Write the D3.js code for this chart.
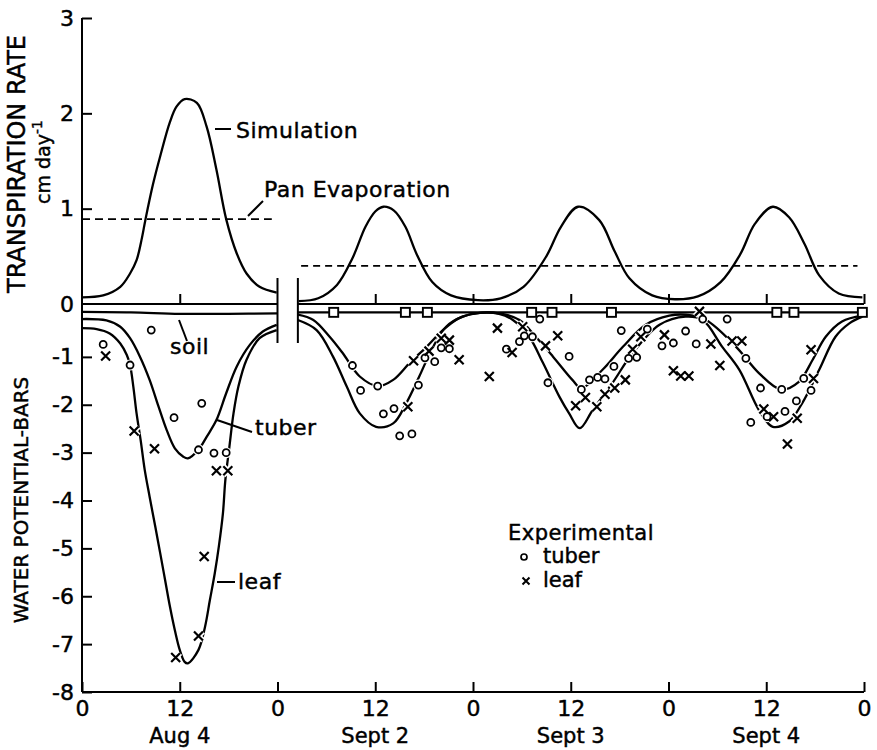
<!DOCTYPE html>
<html>
<head>
<meta charset="utf-8">
<script src="https://cdnjs.cloudflare.com/ajax/libs/d3/7.8.5/d3.min.js"></script>
<style>
  body { margin: 0; background: #fff; }
  svg text { font-family: "DejaVu Sans", sans-serif; fill: #000; stroke: #000; stroke-width: 0.45px; }
</style>
</head>
<body>
<svg id="chart" width="877" height="750"></svg>
<script>
// hours run 0..96, Aug 4 is 0-24, then a break, Sept 2-4 follow
var tickHours = [0, 12, 24, 36, 48, 60, 72, 84, 96];
var tickNames = ["0", "12", "0", "12", "0", "12", "0", "12", "0"];
var dayHours = [12, 36, 60, 84];
var dayNames = ["Aug 4", "Sept 2", "Sept 3", "Sept 4"];
var rateTicks = [0, 1, 2, 3];
var potTicks = [-1, -2, -3, -4, -5, -6, -7, -8];
var breakHours = [24, 26.5];

// simulated transpiration (cm/day)
var simAugHours = [0, 2.6, 4.7, 5.9, 6.7, 7.3, 7.8, 8.7, 9.6, 10.8, 11.6, 12.6, 14.1, 15.3, 16.5, 17.7, 19.0, 20.2, 21.8, 23.9];
var simAugRate  = [0.07, 0.09, 0.18, 0.32, 0.46, 0.67, 0.89, 1.25, 1.55, 1.91, 2.07, 2.15, 2.11, 1.86, 1.41, 0.89, 0.53, 0.32, 0.18, 0.12];
var simSepHours = [26.6, 29.0, 31.3, 33.2, 34.8, 36.0, 37.0, 38.3, 39.7, 41.1, 43.0, 45.3, 48.6, 51.4, 54.2, 57.0, 58.8, 60.9, 63.5, 65.4, 67.2, 70.0, 72.8, 75.6, 78.4, 80.8, 82.6, 84.8, 86.8, 88.7, 90.5, 92.9, 95.8];
var simSepRate  = [0.03, 0.06, 0.20, 0.48, 0.81, 0.97, 1.02, 0.98, 0.81, 0.52, 0.23, 0.09, 0.04, 0.06, 0.18, 0.50, 0.81, 1.02, 0.88, 0.55, 0.27, 0.09, 0.05, 0.08, 0.23, 0.52, 0.84, 1.02, 0.91, 0.63, 0.30, 0.11, 0.07];

// pan evaporation
var panAugHours = [0, 23.3];
var panAugRate  = [0.89, 0.89];
var panSepHours = [26.9, 95.2];
var panSepRate  = [0.40, 0.40];

// simulated water potential (bars)
var soilAugHours = [0, 6, 12, 18, 24];
var soilAug      = [-0.06, -0.07, -0.10, -0.10, -0.09];
var soilSepHours = [26.5, 96];
var soilSep      = [-0.07, -0.07];

var tuberAugHours = [0, 3.0, 4.7, 5.9, 7.1, 8.3, 9.4, 10.4, 11.4, 12.4, 13.0, 14.3, 15.3, 16.5, 17.7, 19.0, 20.6, 22.2, 23.9];
var tuberAug      = [-0.21, -0.24, -0.37, -0.61, -0.99, -1.48, -2.04, -2.53, -2.91, -3.08, -3.12, -2.94, -2.67, -2.32, -1.76, -1.20, -0.75, -0.47, -0.33];
var leafAugHours = [0, 1.8, 3.4, 4.7, 5.5, 5.9, 6.3, 6.7, 7.2, 7.7, 8.3, 9.0, 9.6, 10.2, 10.8, 11.4, 12.0, 12.6, 13.0, 14.3, 15.1, 15.7, 16.3, 16.8, 17.3, 17.6, 18.1, 18.6, 19.2, 20.2, 21.8, 23.9];
var leafAug      = [-0.40, -0.42, -0.51, -0.72, -0.96, -1.17, -1.62, -2.18, -2.74, -3.36, -3.92, -4.55, -5.10, -5.66, -6.22, -6.71, -7.12, -7.37, -7.40, -7.12, -6.64, -6.08, -5.52, -4.96, -4.27, -3.57, -2.87, -2.18, -1.62, -1.06, -0.61, -0.44];

var tuberSepHours = [26.5, 28.4, 30.4, 32.0, 34.1, 36.3, 38.2, 40.2, 42.3, 44.3, 46.3, 48.4, 51.2, 53.7, 55.7, 57.8, 60.2, 61.3, 63.9, 66.4, 69.2, 72.1, 74.1, 76.6, 80.3, 83.1, 85.8, 88.0, 89.7, 91.3, 93.3, 95.8];
var tuberSep      = [-0.12, -0.23, -0.58, -0.92, -1.41, -1.61, -1.48, -1.13, -0.79, -0.44, -0.19, -0.09, -0.09, -0.23, -0.58, -0.99, -1.48, -1.65, -1.27, -0.79, -0.33, -0.14, -0.12, -0.23, -0.79, -1.34, -1.68, -1.52, -1.06, -0.58, -0.26, -0.14];
var leafSepHours = [26.5, 28.8, 30.8, 32.5, 34.1, 36.1, 38.2, 39.8, 41.4, 43.1, 44.7, 46.7, 48.8, 51.2, 52.9, 54.9, 56.6, 58.6, 59.8, 61.1, 62.7, 65.1, 67.6, 70.9, 74.1, 76.2, 78.6, 80.7, 83.1, 84.8, 86.8, 88.4, 90.5, 92.5, 94.2, 95.8];
var leafSep      = [-0.23, -0.44, -0.99, -1.62, -2.18, -2.46, -2.39, -1.97, -1.41, -0.79, -0.37, -0.16, -0.08, -0.10, -0.23, -0.58, -1.13, -1.83, -2.18, -2.49, -2.11, -1.55, -0.92, -0.33, -0.16, -0.23, -0.79, -1.27, -2.11, -2.46, -2.35, -1.97, -1.27, -0.58, -0.30, -0.16];

// measured soil (squares)
var soilObsHours = [30.9, 39.7, 42.4, 55.2, 57.7, 65.0, 85.3, 87.4, 95.8];
var soilObs      = [-0.07, -0.07, -0.07, -0.07, -0.07, -0.07, -0.07, -0.07, -0.07];

// experimental tuber (circles)
var tuberObsHours = [2.6, 8.5, 5.9, 11.3, 14.7, 14.3, 16.2, 17.7,
  33.2, 36.3, 34.2, 37.0, 38.3, 39.0, 40.5, 41.3, 42.1, 43.3, 44.1, 45.1,
  52.1, 53.7, 54.3, 55.3, 56.2, 57.2, 59.8, 61.3, 62.3, 63.3, 64.2, 65.3,
  66.2, 67.1, 68.1, 69.4, 71.2, 72.6, 74.1, 75.4, 76.2, 79.2, 81.5, 83.3,
  85.9, 82.1, 84.1, 86.3, 87.7, 88.6, 89.5];
var tuberObs = [-0.74, -0.44, -1.17, -2.27, -1.97, -2.94, -3.01, -3.00,
  -1.18, -1.61, -1.70, -2.19, -2.08, -2.65, -2.61, -1.59, -1.02, -1.10, -0.81, -0.83,
  -0.84, -0.68, -0.56, -0.58, -0.21, -1.54, -0.99, -1.68, -1.48, -1.43, -1.46, -1.20,
  -0.45, -1.03, -1.01, -0.42, -0.77, -0.71, -0.46, -0.73, -0.21, -0.21, -1.03, -1.65,
  -1.68, -2.37, -2.25, -2.14, -1.92, -1.45, -1.70];

// experimental leaf (crosses)
var leafObsHours = [2.9, 6.4, 8.9, 16.5, 17.9, 15.0, 14.3, 11.5,
  40.7, 42.6, 44.1, 45.1, 46.3, 50.0, 51.0, 54.1, 52.8, 40.0, 56.9, 58.4,
  60.6, 61.8, 63.2, 64.2, 65.4, 66.7, 67.6, 68.6, 71.5, 72.6, 73.5, 74.5,
  75.8, 77.2, 78.3, 79.8, 81.0, 83.7, 84.9, 87.8, 86.6, 89.5, 89.8];
var leafObs = [-0.98, -2.55, -2.92, -3.38, -3.38, -5.17, -6.83, -7.28,
  -1.08, -0.88, -0.61, -0.65, -1.06, -1.41, -0.40, -0.37, -0.91, -2.04, -0.77, -0.56,
  -2.02, -1.85, -2.04, -1.78, -1.65, -1.48, -0.84, -0.58, -0.54, -1.29, -1.40, -1.40,
  -0.05, -0.73, -1.18, -0.67, -0.67, -2.09, -2.25, -2.28, -2.82, -0.85, -1.45];

var svg = d3.select("#chart");
svg.append("rect").attr("width", 877).attr("height", 750).attr("fill", "#fff");

var x = d3.scaleLinear().domain([0, 96]).range([82, 864]);
var yRate = d3.scaleLinear().domain([0, 3]).range([304, 18]);
var yPot = d3.scaleLinear().domain([-8, 0]).range([692, 309]);

function pairs(a, b) { return d3.zip(a, b); }

function curve(scaleY) {
    return d3.line()
        .x(function (d) { return x(d[0]); })
        .y(function (d) { return scaleY(d[1]); })
        .curve(d3.curveCatmullRom.alpha(0.5));
}

var ink = "#000";

// frame: left axis line and bottom axis
svg.append("line")
    .attr("x1", x(0)).attr("x2", x(0))
    .attr("y1", yRate(3)).attr("y2", yPot(-8))
    .attr("stroke", ink).attr("stroke-width", 2);

svg.append("line")
    .attr("x1", x(0)).attr("x2", x(96))
    .attr("y1", yPot(-8)).attr("y2", yPot(-8))
    .attr("stroke", ink).attr("stroke-width", 2);

var rateAxis = svg.append("g")
    .attr("transform", "translate(" + x(0) + ",0)")
    .call(d3.axisLeft(yRate).tickValues(rateTicks).tickSize(-10).tickPadding(8).tickFormat(d3.format("d")));

var potAxis = svg.append("g")
    .attr("transform", "translate(" + x(0) + ",0)")
    .call(d3.axisLeft(yPot).tickValues(potTicks).tickSize(-10).tickPadding(8)
        .tickFormat(function (d) { return String(d); }));

var bottomAxis = svg.append("g")
    .attr("transform", "translate(0," + yPot(-8) + ")")
    .call(d3.axisBottom(x).tickValues(tickHours).tickSize(-10).tickPadding(8)
        .tickFormat(function (d, i) { return tickNames[i]; }));

[rateAxis, potAxis, bottomAxis].forEach(function (g) {
    g.select(".domain").remove();
    g.selectAll(".tick line").attr("stroke", ink).attr("stroke-width", 2);
    g.selectAll(".tick text").style("font-size", "22px").style("font-family", "DejaVu Sans, sans-serif");
});
rateAxis.selectAll(".tick").filter(function (d) { return d === 0; }).select("line").remove();

svg.selectAll(".day")
    .data(dayHours)
    .enter().append("text")
    .attr("class", "day")
    .attr("x", function (d) { return x(d); })
    .attr("y", 743)
    .attr("text-anchor", "middle")
    .style("font-size", "21px")
    .text(function (d, i) { return dayNames[i]; });

// transpiration zero line, split at the break
var zeroSegs = [[0, breakHours[0]], [breakHours[1], 96]];
zeroSegs.forEach(function (s) {
    svg.append("line")
        .attr("x1", x(s[0])).attr("x2", x(s[1]))
        .attr("y1", yRate(0)).attr("y2", yRate(0))
        .attr("stroke", ink).attr("stroke-width", 2);
});
var zeroTicks = tickHours.filter(function (h) { return h > 0 && h !== 24; });
svg.append("g")
    .attr("transform", "translate(0," + yRate(0) + ")")
    .call(d3.axisBottom(x).tickValues(zeroTicks).tickSize(-10).tickFormat(""))
    .call(function (g) {
        g.select(".domain").remove();
        g.selectAll(".tick line").attr("stroke", ink).attr("stroke-width", 2);
    });

// break marks
svg.selectAll(".brk")
    .data(breakHours)
    .enter().append("line")
    .attr("x1", function (d) { return x(d); })
    .attr("x2", function (d) { return x(d); })
    .attr("y1", 278).attr("y2", 343)
    .attr("stroke", ink).attr("stroke-width", 2);

// curves
var curves = [
    [simAugHours, simAugRate, yRate, null],
    [simSepHours, simSepRate, yRate, null],
    [panAugHours, panAugRate, yRate, "8,5"],
    [panSepHours, panSepRate, yRate, "7,5"],
    [soilAugHours, soilAug, yPot, null],
    [soilSepHours, soilSep, yPot, null],
    [tuberAugHours, tuberAug, yPot, null],
    [leafAugHours, leafAug, yPot, null],
    [tuberSepHours, tuberSep, yPot, null],
    [leafSepHours, leafSep, yPot, null]
];
curves.forEach(function (c) {
    svg.append("path")
        .datum(pairs(c[0], c[1]))
        .attr("d", curve(c[2]))
        .attr("fill", "none")
        .attr("stroke", ink)
        .attr("stroke-width", c[3] ? 1.8 : 2.3)
        .attr("stroke-dasharray", c[3]);
});

// experimental markers, white halos first so the lines break around them
var tuberPts = pairs(tuberObsHours, tuberObs);
var leafPts = pairs(leafObsHours, leafObs);
var soilPts = pairs(soilObsHours, soilObs);
var crossPath = "M-4.5,-4.5L4.5,4.5M-4.5,4.5L4.5,-4.5";

svg.append("g").selectAll("circle")
    .data(tuberPts).enter().append("circle")
    .attr("cx", function (d) { return x(d[0]); })
    .attr("cy", function (d) { return yPot(d[1]); })
    .attr("r", 5.5).attr("fill", "#fff");
svg.append("g").selectAll("path")
    .data(leafPts).enter().append("path")
    .attr("transform", function (d) { return "translate(" + x(d[0]) + "," + yPot(d[1]) + ")"; })
    .attr("d", crossPath).attr("stroke", "#fff").attr("stroke-width", 5.5);

svg.append("g").selectAll("circle")
    .data(tuberPts).enter().append("circle")
    .attr("cx", function (d) { return x(d[0]); })
    .attr("cy", function (d) { return yPot(d[1]); })
    .attr("r", 3.5).attr("fill", "#fff").attr("stroke", ink).attr("stroke-width", 1.8);
svg.append("g").selectAll("path")
    .data(leafPts).enter().append("path")
    .attr("transform", function (d) { return "translate(" + x(d[0]) + "," + yPot(d[1]) + ")"; })
    .attr("d", crossPath).attr("stroke", ink).attr("stroke-width", 2.2);

svg.append("g").selectAll("rect")
    .data(soilPts).enter().append("rect")
    .attr("x", function (d) { return x(d[0]) - 4.5; })
    .attr("y", function (d) { return yPot(d[1]) - 4.5; })
    .attr("width", 9).attr("height", 9)
    .attr("fill", "#fff").attr("stroke", ink).attr("stroke-width", 1.9);

// annotations
function label(txt, tx, ty, x1, y1, x2, y2) {
    svg.append("line")
        .attr("x1", x1).attr("y1", y1).attr("x2", x2).attr("y2", y2)
        .attr("stroke", ink).attr("stroke-width", 2);
    svg.append("text")
        .attr("x", tx).attr("y", ty)
        .attr("dominant-baseline", "central")
        .style("font-size", "22px")
        .style("letter-spacing", "0.5px")
        .text(txt);
}
label("Simulation", 236, 130, 215, 129, 231, 129);
label("Pan Evaporation", 264, 189, 248, 216, 263, 201);
label("soil", 170, 346, 179, 320, 187, 341);
label("tuber", 255, 427, 217, 420, 252, 432);
label("leaf", 238, 581, 217, 582, 235, 582);

// legend
svg.append("text").attr("x", 508).attr("y", 533)
    .attr("dominant-baseline", "central").style("font-size", "21px")
    .style("letter-spacing", "0.5px")
    .text("Experimental");
svg.append("circle").attr("cx", 524).attr("cy", 557).attr("r", 3)
    .attr("fill", "#fff").attr("stroke", ink).attr("stroke-width", 1.7);
svg.append("text").attr("x", 543).attr("y", 556)
    .attr("dominant-baseline", "central").style("font-size", "21px").text("tuber");
svg.append("path").attr("transform", "translate(526,581)")
    .attr("d", "M-3.5,-3.5L3.5,3.5M-3.5,3.5L3.5,-3.5").attr("stroke", ink).attr("stroke-width", 2);
svg.append("text").attr("x", 543).attr("y", 580)
    .attr("dominant-baseline", "central").style("font-size", "21px").text("leaf");

// axis titles
svg.append("text")
    .attr("transform", "translate(25,164) rotate(-90)")
    .attr("text-anchor", "middle")
    .style("font-size", "24px")
    .text("TRANSPIRATION RATE");

var unit = svg.append("text")
    .attr("transform", "translate(50,162) rotate(-90)")
    .attr("text-anchor", "middle")
    .style("font-size", "19px");
unit.append("tspan").text("cm day");
unit.append("tspan").attr("dy", -8).style("font-size", "14px").text("-1");

svg.append("text")
    .attr("transform", "translate(28,500) rotate(-90)")
    .attr("text-anchor", "middle")
    .style("font-size", "20px")
    .text("WATER POTENTIAL-BARS");
</script>
</body>
</html>
